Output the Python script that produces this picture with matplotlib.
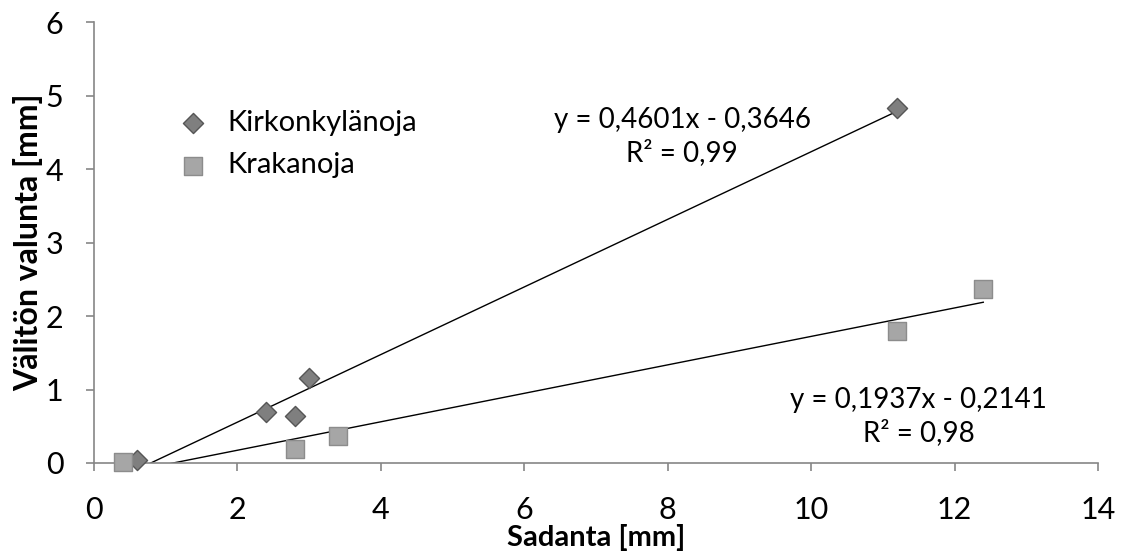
import numpy as np
import matplotlib.pyplot as plt

plt.rcParams['font.family'] = ['Lato', 'DejaVu Sans']

# Kirkonkylänoja
kirk_x = [0.6, 2.4, 2.8, 3.0, 11.2]
kirk_y = [0.04, 0.69, 0.64, 1.16, 4.83]
# Krakanoja
krak_x = [0.4, 2.8, 3.4, 11.2, 12.4]
krak_y = [0.02, 0.19, 0.37, 1.80, 2.37]

kirk_fit = (0.4601, -0.3646)
krak_fit = (0.1937, -0.2141)

fig = plt.figure(figsize=(11.24, 5.54), dpi=100)
ax = fig.add_axes([0.0836, 0.1643, 0.8933, 0.7957])

grey = '#868686'

# trendlines
for xs, (a, b) in [(kirk_x, kirk_fit), (krak_x, krak_fit)]:
    xx = np.array([min(xs), max(xs)])
    ax.plot(xx, a * xx + b, color='black', lw=1, zorder=2)

ax.scatter(kirk_x, kirk_y, marker='D', s=105, color='#7f7f7f', edgecolor='#555555',
           linewidth=1, label='Kirkonkylänoja', zorder=3, clip_on=False)
ax.scatter(krak_x, krak_y, marker='s', s=150, color='#a6a6a6', edgecolor='#8c8c8c',
           linewidth=1, label='Krakanoja', zorder=3, clip_on=False)

ax.set_xlim(0, 14)
ax.set_ylim(0, 6)
ax.set_xticks(range(0, 15, 2))
ax.set_yticks(range(0, 7))

for s in ['top', 'right']:
    ax.spines[s].set_visible(False)
for s in ['left', 'bottom']:
    ax.spines[s].set_color(grey)
    ax.spines[s].set_linewidth(1.2)
ax.tick_params(colors=grey, labelcolor='black', labelsize=22, length=6, width=1.2,
               direction='out')
ax.tick_params(axis='x', pad=18)
ax.tick_params(axis='y', pad=16)

ax.set_xlabel('Sadanta [mm]', fontsize=21, fontweight='bold', labelpad=0)
ax.set_ylabel('Välitön valunta [mm]', fontsize=23, fontweight='bold', labelpad=2)

ax.legend(loc='upper left', bbox_to_anchor=(0.043, 0.86), frameon=False, fontsize=21,
          handletextpad=0.2, labelspacing=0.55, scatterpoints=1)

ax.text(8.2, 4.44, 'y = 0,4601x - 0,3646\nR² = 0,99', fontsize=20, ha='center',
        va='center', linespacing=1.3)
ax.text(11.5, 0.63, 'y = 0,1937x - 0,2141\nR² = 0,98', fontsize=20, ha='center',
        va='center', linespacing=1.3)

fig.savefig('out.png', dpi=100)
